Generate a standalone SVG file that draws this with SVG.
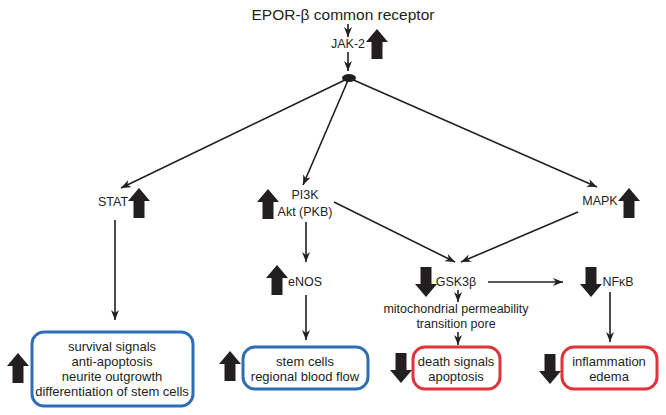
<svg xmlns="http://www.w3.org/2000/svg" xmlns:xlink="http://www.w3.org/1999/xlink" width="666" height="415" viewBox="0 0 666 415">
<style>
text{font-family:"Liberation Sans",Arial,sans-serif;fill:#231f20;text-anchor:middle}
.t{font-size:12.5px}
.b{font-size:13px}
.title{font-size:15.5px}
.c{stroke:#231f20;stroke-width:1.6;fill:none;marker-end:url(#ah)}
.blue{fill:#fff;stroke:#2f6db5;stroke-width:3}
.red{fill:#fff;stroke:#e0343a;stroke-width:3}
</style>
<defs>
<marker id="ah" viewBox="0 0 10 8" refX="10" refY="4" markerWidth="10" markerHeight="8" orient="auto" markerUnits="userSpaceOnUse">
<path d="M0,0 L10,4 L0,8 L3,4 z" fill="#231f20"/>
</marker>
<polygon id="up" points="11,0 22,13 16.5,13 16.5,30 5.5,30 5.5,13 0,13" fill="#231f20"/>
<polygon id="dn" points="11,30 22,17 16.5,17 16.5,0 5.5,0 5.5,17 0,17" fill="#231f20"/>
</defs>
<rect width="666" height="415" fill="#fff"/>
<g id="connectors">
<line class="c" x1="348" y1="24" x2="348" y2="37"/>
<line class="c" x1="348" y1="52" x2="348" y2="71"/>
<line class="c" x1="349" y1="78" x2="121" y2="188"/>
<line class="c" x1="349" y1="78" x2="303" y2="185"/>
<line class="c" x1="349" y1="78" x2="597" y2="187"/>
<line class="c" x1="115" y1="220" x2="115" y2="320"/>
<line class="c" x1="306" y1="222" x2="306" y2="262"/>
<line class="c" x1="306" y1="295" x2="306" y2="340"/>
<line class="c" x1="334" y1="202" x2="455" y2="262"/>
<line class="c" x1="578" y1="212" x2="461" y2="262"/>
<line class="c" x1="458" y1="290" x2="458" y2="302"/>
<line class="c" x1="458" y1="332" x2="458" y2="345"/>
<line class="c" x1="488" y1="282" x2="563" y2="282"/>
<line class="c" x1="610" y1="292" x2="610" y2="342"/>
</g>
<g id="receptor"><text class="title" x="343" y="20">EPOR-β common receptor</text></g>
<g id="jak2"><text class="t" x="348" y="48">JAK-2</text><use xlink:href="#up" x="366" y="29"/></g>
<g id="hub"><ellipse cx="349" cy="78" rx="7" ry="4" fill="#231f20"/></g>
<g id="stat"><text class="t" x="113" y="206">STAT</text><use xlink:href="#up" x="128" y="188"/></g>
<g id="pi3k"><text class="t" x="305" y="199">PI3K</text><text class="t" x="305" y="216">Akt (PKB)</text><use xlink:href="#up" x="257" y="189"/></g>
<g id="mapk"><text class="t" x="600" y="205">MAPK</text><use xlink:href="#up" x="618" y="188"/></g>
<g id="enos"><text class="t" x="305" y="286">eNOS</text><use xlink:href="#up" x="266" y="265"/></g>
<g id="gsk3b"><text class="t" x="456" y="286">GSK3β</text><use xlink:href="#dn" x="415" y="267"/></g>
<g id="nfkb"><text class="t" x="618" y="286">NFκB</text><use xlink:href="#dn" x="580" y="267"/></g>
<g id="mptp"><text class="t" x="456" y="313">mitochondrial permeability</text><text class="t" x="456" y="328">transition pore</text></g>
<g id="survival">
<rect class="blue" x="32" y="332" width="161" height="74" rx="12"/>
<text class="b" x="112" y="351">survival signals</text>
<text class="b" x="112" y="366">anti-apoptosis</text>
<text class="b" x="112" y="381">neurite outgrowth</text>
<text class="b" x="112" y="396">differentiation of stem cells</text>
<use xlink:href="#up" x="7" y="353"/>
</g>
<g id="stemcells">
<rect class="blue" x="243" y="347" width="125" height="42" rx="12"/>
<text class="b" x="305" y="366">stem cells</text>
<text class="b" x="305" y="381">regional blood flow</text>
<use xlink:href="#up" x="219" y="351"/>
</g>
<g id="death">
<rect class="red" x="413" y="347" width="87" height="42" rx="12"/>
<text class="b" x="456" y="366">death signals</text>
<text class="b" x="456" y="381">apoptosis</text>
<use xlink:href="#dn" x="390" y="353"/>
</g>
<g id="inflammation">
<rect class="red" x="562" y="347" width="95" height="42" rx="12"/>
<text class="b" x="609" y="366">inflammation</text>
<text class="b" x="609" y="381">edema</text>
<use xlink:href="#dn" x="539" y="354"/>
</g>
</svg>
